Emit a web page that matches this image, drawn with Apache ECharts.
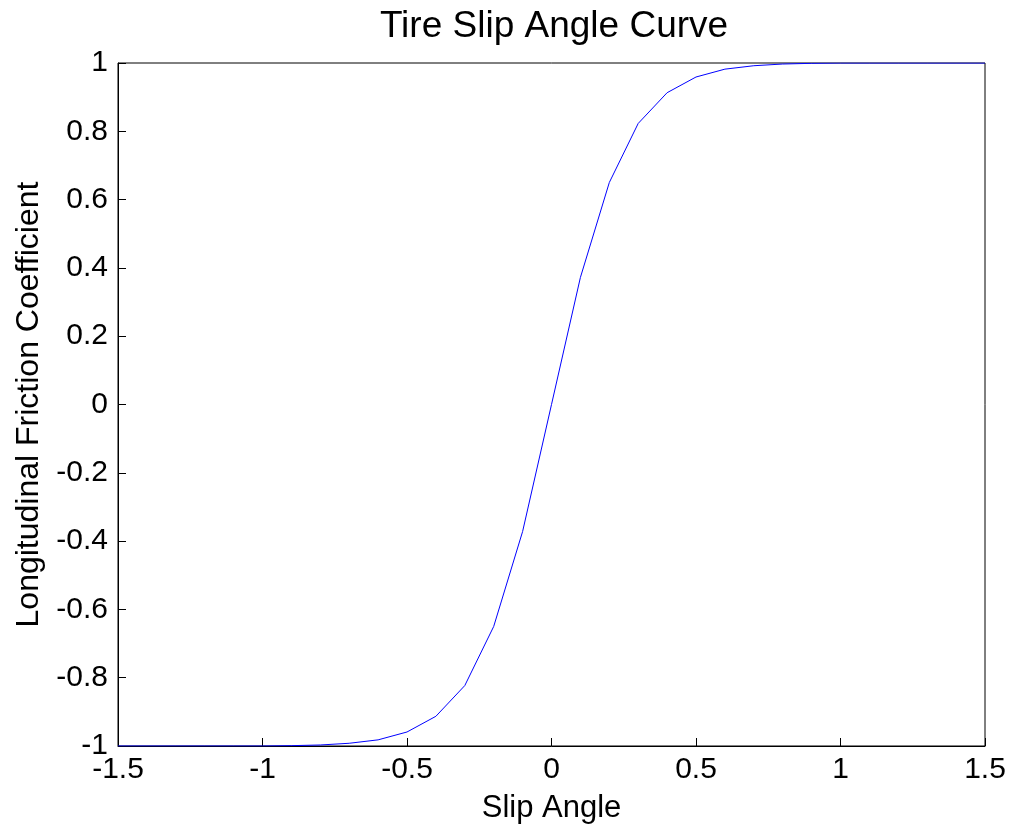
<!DOCTYPE html>
<html>
<head>
<meta charset="utf-8">
<title>Tire Slip Angle Curve</title>
<script src="https://cdn.jsdelivr.net/npm/echarts@6/dist/echarts.min.js"></script>
<style>
html, body { margin: 0; padding: 0; background: #fff; }
#main { width: 1012px; height: 831px; }
</style>
</head>
<body>
<div id="main"></div>
<script type="text/javascript">
// slip angle samples and friction coefficient
var slipAngle = [-1.5, -1.4, -1.3, -1.2, -1.1, -1.0, -0.9, -0.8, -0.7, -0.6, -0.5,
	-0.4, -0.3, -0.2, -0.1, 0, 0.1, 0.2, 0.3, 0.4, 0.5, 0.6, 0.7, 0.8,
	0.9, 1.0, 1.1, 1.2, 1.3, 1.4, 1.5];
var friction = [-1, -1, -1, -1, -1, -1, -0.999, -0.997, -0.992, -0.982, -0.959,
	-0.913, -0.823, -0.65, -0.372, 0, 0.372, 0.65, 0.823, 0.913, 0.959, 0.982, 0.992, 0.997,
	0.999, 1, 1, 1, 1, 1, 1];
var xTicks = [-1.5, -1, -0.5, 0, 0.5, 1, 1.5];
var yTicks = [-1, -0.8, -0.6, -0.4, -0.2, 0, 0.2, 0.4, 0.6, 0.8, 1];

var points = [];
for (var i = 0; i < slipAngle.length; i++) {
	points.push([slipAngle[i], friction[i]]);
}

var myChart = echarts.init(document.getElementById('main'));
var font = 'Liberation Sans, Arial, sans-serif';

var option = {
	animation: false,
	backgroundColor: '#fff',
	title: {
		text: 'Tire Slip Angle Curve',
		left: 549,
		textAlign: 'center',
		top: 3,
		textStyle: { fontFamily: font, fontSize: 37, fontWeight: 'normal', color: '#000' }
	},
	grid: {
		left: 118, right: 27, top: 63, bottom: 85,
		outerBoundsMode: 'none',
		show: true, borderColor: '#000', borderWidth: 1
	},
	xAxis: {
		type: 'value',
		min: -1.5, max: 1.5, interval: 0.5,
		name: 'Slip Angle',
		nameLocation: 'middle',
		nameGap: 47,
		nameTextStyle: { fontFamily: font, fontSize: 31, color: '#000' },
		axisLine: { show: true, onZero: false, lineStyle: { color: '#000' } },
		axisTick: { show: true, inside: true, length: 8, lineStyle: { color: '#000' } },
		splitLine: { show: false },
		axisLabel: {
			fontFamily: font, fontSize: 30, color: '#000', margin: 9,
			formatter: function (v) { return xTicks.indexOf(v) >= 0 ? String(v) : ''; }
		}
	},
	yAxis: {
		type: 'value',
		min: -1, max: 1, interval: 0.2,
		name: 'Longitudinal Friction Coefficient',
		nameLocation: 'middle',
		nameGap: 72,
		nameTextStyle: { fontFamily: font, fontSize: 32, color: '#000' },
		axisLine: { show: true, onZero: false, lineStyle: { color: '#000' } },
		axisTick: { show: true, inside: true, length: 8, lineStyle: { color: '#000' } },
		splitLine: { show: false },
		axisLabel: {
			fontFamily: font, fontSize: 30, color: '#000', margin: 10,
			formatter: function (v) {
				var r = Math.round(v * 10) / 10;
				return yTicks.indexOf(r) >= 0 ? String(r) : '';
			}
		}
	},
	series: [{
		type: 'line',
		data: points,
		symbol: 'none',
		lineStyle: { color: '#0000ff', width: 1 },
		clip: true
	}]
};
myChart.setOption(option);
</script>
</body>
</html>
